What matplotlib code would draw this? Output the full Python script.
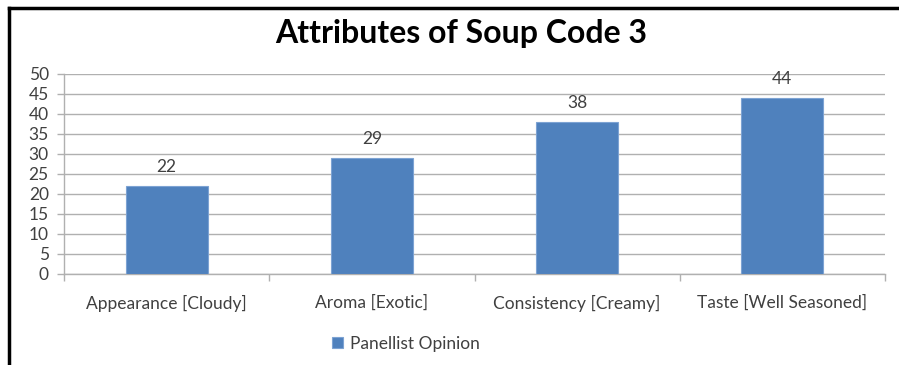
import matplotlib
matplotlib.use("Agg")
import matplotlib.pyplot as plt
from matplotlib.lines import Line2D
import numpy as np

categories = ["Appearance [Cloudy]", "Aroma [Exotic]", "Consistency [Creamy]", "Taste [Well Seasoned]"]
values = [22, 29, 38, 44]
series_name = "Panellist Opinion"
title = "Attributes of Soup Code 3"
yticks = list(range(0, 55, 5))

plt.rcParams['font.family'] = ['Lato', 'DejaVu Sans']

W, H = 899, 365
fig = plt.figure(figsize=(W / 100, H / 100), dpi=100)
ax = fig.add_axes([64 / W, 1 - 274 / H, (885 - 64) / W, (274 - 74) / H])

FS = 12.5
x = np.arange(len(categories))
bars = ax.bar(x, values, width=0.4, color="#4F81BD", edgecolor="#7DA3D3", linewidth=0.8,
              label=series_name, zorder=3)
for xi, v in zip(x, values):
    ax.annotate(str(v), (xi, v), xytext=(0, 8), textcoords="offset points",
                ha="center", va="bottom", fontsize=FS, color="#404040")

ax.set_xlim(-0.5, len(categories) - 0.5)
ax.set_ylim(0, 50)
ax.set_yticks(yticks)
ax.set_yticklabels([str(t) for t in yticks], fontsize=FS, color="#404040")
ax.yaxis.grid(True, color="#B0B0B0", linewidth=1.0, zorder=0)
ax.set_axisbelow(True)

ax.set_xticks(x)
ax.set_xticklabels(categories, fontsize=FS, color="#404040")
ax.tick_params(axis="x", length=0, pad=15)
ax.set_xticks(np.arange(-0.5, len(categories)), minor=True)
ax.tick_params(axis="x", which="minor", length=5, color="#B0B0B0", width=1)
ax.tick_params(axis="y", length=5, color="#B0B0B0", width=1, pad=6)

for s in ["top", "right"]:
    ax.spines[s].set_visible(False)
for s in ["left", "bottom"]:
    ax.spines[s].set_color("#B0B0B0")
    ax.spines[s].set_linewidth(1)

fig.text(461 / W, 1 - 33 / H, title, ha="center", va="center", fontsize=23,
         fontweight="bold", color="black")

fig.legend(handles=[bars], labels=[series_name], loc="center", bbox_to_anchor=(406 / W, 1 - 344 / H),
           frameon=False, fontsize=FS, handlelength=0.6, handleheight=0.6, handletextpad=0.4,
           labelcolor="#404040")

# outer frame lines (top and left)
fig.add_artist(Line2D([9 / W, 898 / W], [1 - 8 / H, 1 - 8 / H], color="black", linewidth=2.5,
                      transform=fig.transFigure))
fig.add_artist(Line2D([9 / W, 9 / W], [1 - 8 / H, 0], color="black", linewidth=2.5,
                      transform=fig.transFigure))

fig.savefig("out.png", dpi=100)
